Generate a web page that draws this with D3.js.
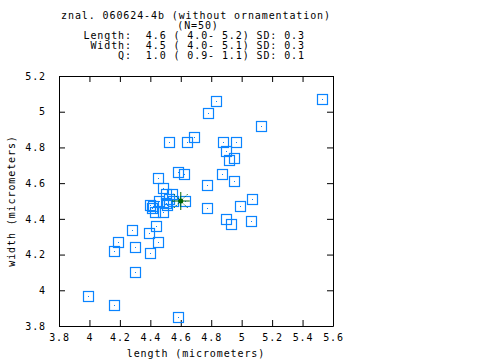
<!DOCTYPE html>
<html>
<head>
<meta charset="utf-8">
<script src="https://cdn.jsdelivr.net/npm/d3@7"></script>
<style>
  html, body { margin: 0; padding: 0; background: #fff; }
  svg { display: block; }
  text { font-family: "DejaVu Sans Mono", monospace; font-size: 10px; letter-spacing: 0.9px; fill: #000; white-space: pre; }
</style>
</head>
<body>
<svg id="chart" width="480" height="360"></svg>
<script>
const titleLines = [
  "znal. 060624-4b (without ornamentation)",
  "(N=50)"
];
const statLines = [
  "Length:  4.6 ( 4.0- 5.2) SD: 0.3",
  " Width:  4.5 ( 4.0- 5.1) SD: 0.3",
  "     Q:  1.0 ( 0.9- 1.1) SD: 0.1"
];
const xLabel = "length (micrometers)";
const yLabel = "width (micrometers)";

const xTicks = [3.8, 4.0, 4.2, 4.4, 4.6, 4.8, 5.0, 5.2, 5.4, 5.6];
const xTickLabels = ["3.8", "4", "4.2", "4.4", "4.6", "4.8", "5", "5.2", "5.4", "5.6"];
const yTicks = [3.8, 4.0, 4.2, 4.4, 4.6, 4.8, 5.0, 5.2];
const yTickLabels = ["3.8", "4", "4.2", "4.4", "4.6", "4.8", "5", "5.2"];

const lengths = [5.53, 4.83, 4.78, 5.13, 4.69, 4.52, 4.64, 4.88, 4.96, 4.90,
                 4.92, 4.95, 4.62, 4.87, 4.95, 4.77, 5.07, 4.99, 4.77, 4.90,
                 5.06, 4.93, 4.58, 4.58, 4.45, 4.48, 4.54, 4.63, 4.28, 4.44,
                 4.19, 4.16, 4.30, 4.39, 4.45, 4.40, 4.30, 3.99, 4.16, 4.50,
                 4.40, 4.41, 4.43, 4.46, 4.50, 4.51, 4.52, 4.48, 4.55, 4.42];
const widths  = [5.07, 5.06, 4.99, 4.92, 4.86, 4.83, 4.83, 4.83, 4.83, 4.78,
                 4.73, 4.74, 4.65, 4.65, 4.61, 4.59, 4.51, 4.47, 4.46, 4.40,
                 4.39, 4.37, 3.85, 4.66, 4.63, 4.57, 4.54, 4.50, 4.34, 4.36,
                 4.27, 4.22, 4.24, 4.32, 4.27, 4.21, 4.10, 3.97, 3.92, 4.54,
                 4.48, 4.46, 4.44, 4.50, 4.49, 4.48, 4.51, 4.44, 4.50, 4.47];
const meanPoint = [4.6, 4.5];

const svg = d3.select("#chart");
const L = 59, R = 333, T = 76, B = 326;
const x = d3.scaleLinear().domain([3.8, 5.6]).range([L, R]);
const y = d3.scaleLinear().domain([3.8, 5.2]).range([B, T]);

// Titles
const cx = (L + R) / 2;
svg.append("text").attr("x", cx).attr("y", 19).attr("text-anchor", "middle").text(titleLines[0]);
svg.append("text").attr("x", cx + 2).attr("y", 29).attr("text-anchor", "middle").text(titleLines[1]);
statLines.forEach((s, i) => {
  svg.append("text").attr("x", 83.5).attr("y", 39 + i * 9.8).text(s);
});

// Axes
function styleAxis(g) {
  g.selectAll("path.domain").attr("stroke", "#000").attr("stroke-width", 1);
  g.selectAll(".tick line").attr("stroke", "#000").attr("stroke-width", 1);
  g.selectAll("text").attr("font-family", null).attr("font-size", null);
  g.attr("font-family", null).attr("font-size", null);
}
const xf = i => xTickLabels[xTicks.indexOf(i)];
const yf = i => yTickLabels[yTicks.indexOf(i)];

svg.append("g").attr("transform", `translate(0,${B})`)
  .call(d3.axisBottom(x).tickValues(xTicks).tickFormat(xf).tickSizeInner(-6).tickSizeOuter(0).tickPadding(8))
  .call(styleAxis);
svg.append("g").attr("transform", `translate(0,${T})`)
  .call(d3.axisTop(x).tickValues(xTicks).tickFormat("").tickSizeInner(-6).tickSizeOuter(0))
  .call(styleAxis);
svg.append("g").attr("transform", `translate(${L},0)`)
  .call(d3.axisLeft(y).tickValues(yTicks).tickFormat(yf).tickSizeInner(-6).tickSizeOuter(0).tickPadding(13))
  .call(styleAxis);
svg.append("g").attr("transform", `translate(${R},0)`)
  .call(d3.axisRight(y).tickValues(yTicks).tickFormat("").tickSizeInner(-6).tickSizeOuter(0))
  .call(styleAxis);

// Axis labels
svg.append("text").attr("x", cx).attr("y", 357).attr("text-anchor", "middle").text(xLabel);
svg.append("text").attr("transform", `translate(15,${(T + B) / 2}) rotate(-90)`)
  .attr("text-anchor", "middle").text(yLabel);

// Points
const blue = "#0a84ff";
const pts = lengths.map((l, i) => [l, widths[i]]);
const pg = svg.append("g");
pg.selectAll("rect.sq").data(pts).join("rect").attr("class", "sq")
  .attr("x", d => Math.round(x(d[0])) - 5 + 0.5)
  .attr("y", d => Math.round(y(d[1])) - 5 + 0.5)
  .attr("width", 10).attr("height", 10)
  .attr("fill", "none").attr("stroke", blue).attr("stroke-width", 1.2);
pg.selectAll("rect.dot").data(pts).join("rect").attr("class", "dot")
  .attr("x", d => Math.round(x(d[0])))
  .attr("y", d => Math.round(y(d[1])))
  .attr("width", 1).attr("height", 1).attr("fill", blue);

// Mean star
const green = "#006400";
const mx = x(meanPoint[0]), my = y(meanPoint[1]);
const sg = svg.append("g").attr("stroke", green).attr("stroke-width", 1);
sg.append("line").attr("x1", mx - 9).attr("x2", mx + 9).attr("y1", my).attr("y2", my);
sg.append("line").attr("x1", mx).attr("x2", mx).attr("y1", my - 9).attr("y2", my + 9);
sg.append("line").attr("x1", mx - 7).attr("x2", mx + 7).attr("y1", my - 7).attr("y2", my + 7).attr("stroke-dasharray", "1.5,1.5");
sg.append("line").attr("x1", mx - 7).attr("x2", mx + 7).attr("y1", my + 7).attr("y2", my - 7).attr("stroke-dasharray", "1.5,1.5");
svg.append("circle").attr("cx", mx).attr("cy", my).attr("r", 2.5).attr("fill", green);
</script>
</body>
</html>
